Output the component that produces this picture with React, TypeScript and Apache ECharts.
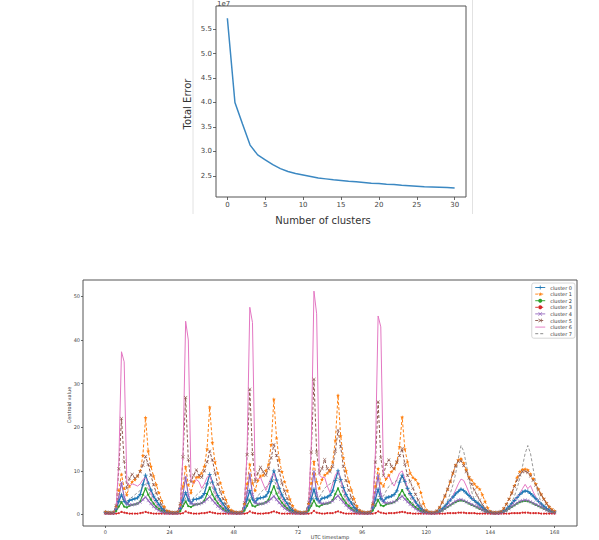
import React, { useEffect, useRef } from "react";
import * as echarts from "echarts";

// ---- Elbow plot data (Total Error, in units of 1e7) ----
const clusterCounts = [0,1,2,3,4,5,6,7,8,9,10,11,12,13,14,15,16,17,18,19,20,21,22,23,24,25,26,27,28,29,30];
const totalError = [5.72,4.0,3.56,3.13,2.93,2.83,2.73,2.65,2.59,2.55,2.52,2.49,2.46,2.44,2.42,2.405,2.39,2.38,2.365,2.35,2.345,2.33,2.325,2.31,2.3,2.29,2.28,2.275,2.27,2.265,2.255];
const elbowXTicks = [0,5,10,15,20,25,30];
const elbowYTicks = [2.5,3.0,3.5,4.0,4.5,5.0,5.5];

// ---- Centroid data (hourly, 0..168) ----
const hourTicks = [0,24,48,72,96,120,144,168];
const valueTicks = [0,10,20,30,40,50];
const clusterNames = ["cluster 0","cluster 1","cluster 2","cluster 3","cluster 4","cluster 5","cluster 6","cluster 7"];

const cluster0 = [
0.5,0.4,0.4,0.4,1.2,3.0,4.5,3.0,2.4,3.2,3.4,3.6,3.8,4.6,6.8,9.0,7.2,5.6,4.2,3.2,2.3,1.4,0.9,0.6,
0.5,0.4,0.4,0.5,1.4,3.3,5.0,3.3,2.6,3.4,3.5,3.7,4.0,4.8,7.0,9.2,7.4,5.8,4.3,3.3,2.4,1.5,0.9,0.6,
0.5,0.4,0.4,0.5,1.5,3.5,5.5,3.5,2.8,3.6,3.8,3.9,4.2,5.2,7.6,10.0,7.9,6.0,4.5,3.4,2.5,1.5,0.9,0.6,
0.5,0.4,0.4,0.5,1.5,3.6,5.8,3.6,2.9,3.7,3.8,4.0,4.4,5.4,7.8,10.0,8.0,6.2,4.6,3.5,2.6,1.6,1.0,0.6,
0.5,0.4,0.4,0.5,1.5,3.5,5.8,3.6,3.0,3.8,4.0,4.2,4.6,5.4,7.4,9.0,7.6,6.0,4.8,3.8,2.9,2.0,1.3,0.8,
0.6,0.5,0.4,0.4,0.5,0.8,1.3,1.9,2.6,3.3,4.0,4.7,5.3,5.8,5.5,4.9,4.3,3.7,3.2,2.7,2.2,1.6,1.1,0.7,
0.5,0.4,0.4,0.4,0.5,0.8,1.2,1.8,2.5,3.2,3.9,4.6,5.1,5.4,5.3,4.8,4.2,3.6,3.0,2.4,1.9,1.4,1.0,0.7,
0.6];
const cluster1 = [
0.6,0.5,0.4,0.5,1.8,5.5,9.2,6.0,4.5,6.5,7.5,8.0,8.8,10.0,13.5,22.2,14.5,11.0,8.8,6.8,5.0,3.2,1.8,0.9,
0.7,0.5,0.5,0.6,2.2,6.5,10.9,6.8,5.0,7.5,8.5,8.6,9.5,11.0,15.0,24.6,16.5,12.0,9.5,7.2,5.2,3.4,1.9,1.0,
0.7,0.5,0.5,0.6,2.4,7.0,11.5,7.2,5.5,7.8,8.8,9.0,10.0,11.5,16.0,26.4,17.5,12.5,9.8,7.5,5.5,3.5,2.0,1.0,
0.7,0.5,0.5,0.6,2.5,7.2,12.1,7.5,6.0,8.0,9.0,9.5,10.2,12.0,17.0,27.3,18.0,13.0,10.0,7.6,5.6,3.6,2.0,1.0,
0.7,0.5,0.5,0.6,2.3,6.5,10.5,7.2,6.5,8.2,9.0,9.8,10.5,12.0,15.5,22.3,15.0,12.0,9.5,8.5,8.0,7.0,5.0,2.5,
1.0,0.6,0.5,0.5,0.8,1.6,2.8,4.2,5.8,7.5,9.5,11.3,12.5,12.8,11.8,10.2,8.6,7.9,7.0,6.3,5.8,4.5,3.0,1.5,
0.7,0.5,0.5,0.5,0.7,1.4,2.4,3.6,5.0,6.6,8.5,9.8,10.3,10.4,10.2,9.3,8.2,7.0,5.8,4.6,3.6,2.6,1.8,1.2,
0.8];
const cluster2 = [
0.3,0.3,0.3,0.3,0.8,1.8,2.8,1.8,1.6,2.0,2.2,2.3,2.5,3.0,4.5,6.0,4.5,3.4,2.5,1.8,1.3,0.8,0.5,0.3,
0.3,0.3,0.3,0.3,0.8,1.9,3.0,1.9,1.7,2.1,2.3,2.4,2.6,3.2,4.7,6.2,4.6,3.5,2.6,1.9,1.3,0.8,0.5,0.3,
0.3,0.3,0.3,0.3,0.9,2.0,3.2,2.0,1.8,2.2,2.4,2.5,2.8,3.4,5.0,6.5,4.8,3.6,2.7,2.0,1.4,0.9,0.5,0.3,
0.3,0.3,0.3,0.3,0.9,2.0,3.2,2.0,1.8,2.2,2.4,2.5,2.7,3.3,4.7,6.0,4.6,3.5,2.6,2.0,1.4,0.9,0.5,0.3,
0.3,0.3,0.3,0.3,0.9,2.0,3.3,2.1,1.9,2.3,2.5,2.6,2.8,3.3,4.5,5.6,4.4,3.5,2.8,2.2,1.7,1.2,0.8,0.5,
0.4,0.3,0.3,0.3,0.4,0.6,0.9,1.3,1.7,2.1,2.5,2.8,3.1,3.2,3.1,2.8,2.5,2.2,1.9,1.6,1.3,1.0,0.7,0.5,
0.4,0.3,0.3,0.3,0.4,0.6,0.9,1.3,1.7,2.1,2.5,2.8,3.0,3.1,3.0,2.8,2.5,2.2,1.9,1.6,1.3,1.0,0.7,0.5,
0.4];
const cluster3 = [
0.2,0.2,0.2,0.2,0.2,0.3,0.6,0.4,0.3,0.2,0.2,0.2,0.2,0.3,0.4,0.6,0.4,0.3,0.2,0.2,0.2,0.2,0.2,0.2,
0.2,0.2,0.2,0.2,0.2,0.3,0.7,0.4,0.3,0.2,0.2,0.2,0.3,0.3,0.4,0.6,0.4,0.3,0.2,0.2,0.2,0.2,0.2,0.2,
0.2,0.2,0.2,0.2,0.2,0.3,0.7,0.4,0.3,0.2,0.2,0.2,0.3,0.3,0.5,0.7,0.5,0.3,0.2,0.2,0.2,0.2,0.2,0.2,
0.2,0.2,0.2,0.2,0.2,0.3,0.8,0.4,0.3,0.2,0.2,0.3,0.3,0.3,0.5,0.7,0.5,0.3,0.2,0.2,0.2,0.2,0.2,0.2,
0.2,0.2,0.2,0.2,0.2,0.3,0.7,0.4,0.3,0.2,0.3,0.3,0.3,0.4,0.5,0.6,0.5,0.3,0.3,0.2,0.2,0.2,0.2,0.2,
0.2,0.2,0.2,0.2,0.2,0.2,0.2,0.2,0.3,0.3,0.3,0.3,0.4,0.4,0.4,0.3,0.3,0.3,0.3,0.2,0.2,0.2,0.2,0.2,
0.2,0.2,0.2,0.2,0.2,0.2,0.2,0.2,0.3,0.3,0.3,0.3,0.4,0.4,0.4,0.3,0.3,0.3,0.3,0.2,0.2,0.2,0.2,0.2,
0.2];
const cluster4 = [
0.3,0.3,0.3,0.3,1.5,4.0,7.3,4.0,2.5,2.2,2.2,2.3,2.5,2.8,3.4,4.0,3.2,2.5,1.8,1.3,0.9,0.6,0.4,0.3,
0.3,0.3,0.3,0.3,1.8,4.6,8.6,4.4,2.6,2.3,2.3,2.4,2.6,2.9,3.5,4.1,3.3,2.6,1.9,1.4,0.9,0.6,0.4,0.3,
0.3,0.3,0.3,0.3,1.9,5.0,9.3,4.6,2.7,2.4,2.4,2.5,2.7,3.0,3.6,4.2,3.4,2.7,2.0,1.4,1.0,0.6,0.4,0.3,
0.3,0.3,0.3,0.3,2.0,5.2,9.8,4.8,2.8,2.5,2.5,2.6,2.8,3.1,3.7,4.3,3.5,2.8,2.1,1.5,1.0,0.7,0.4,0.3,
0.3,0.3,0.3,0.3,1.9,5.0,9.0,4.6,2.8,2.6,2.6,2.7,2.9,3.2,3.7,4.2,3.5,2.9,2.3,1.8,1.3,0.9,0.6,0.4,
0.4,0.3,0.3,0.3,0.4,0.6,0.9,1.3,1.8,2.2,2.6,3.0,3.3,3.4,3.2,2.9,2.6,2.3,2.0,1.7,1.4,1.0,0.7,0.5,
0.4,0.3,0.3,0.3,0.4,0.6,0.9,1.3,1.8,2.2,2.6,3.0,3.2,3.3,3.2,2.9,2.6,2.3,2.0,1.7,1.3,1.0,0.7,0.5,
0.4];
const cluster5 = [
0.5,0.4,0.4,0.5,2.0,10.5,22.0,12.2,6.0,8.3,9.2,8.3,8.8,9.8,11.3,13.3,11.5,9.0,6.8,5.0,3.5,2.2,1.2,0.7,
0.5,0.4,0.4,0.5,2.5,13.2,26.8,12.6,7.5,9.0,10.2,9.0,8.5,10.0,12.0,14.5,12.5,9.5,7.0,5.2,3.6,2.3,1.3,0.7,
0.5,0.4,0.4,0.5,2.7,13.7,28.7,14.0,7.5,9.5,10.8,9.8,9.0,10.5,13.0,16.0,13.5,10.0,7.2,5.3,3.7,2.4,1.3,0.7,
0.5,0.4,0.4,0.5,2.8,14.3,31.0,14.3,9.5,10.5,12.6,10.5,9.8,11.0,14.5,19.3,15.5,11.0,7.8,5.6,3.9,2.5,1.4,0.8,
0.5,0.4,0.4,0.5,2.4,12.0,25.8,13.0,9.0,11.5,12.5,11.0,10.5,12.0,13.5,15.1,11.5,9.0,7.5,6.0,4.6,3.3,2.0,1.0,
0.8,0.5,0.4,0.5,0.8,1.6,2.8,4.3,5.8,7.6,9.5,11.2,12.2,12.3,11.2,9.8,8.3,6.9,5.6,4.4,3.3,2.3,1.4,0.8,
0.6,0.4,0.4,0.5,0.7,1.3,2.3,3.5,4.9,6.4,7.9,9.1,9.8,9.9,9.6,8.8,7.8,6.7,5.6,4.5,3.5,2.5,1.6,1.0,
0.6];
const cluster6 = [
0.3,0.2,0.2,0.3,1.5,12.0,37.3,35.0,7.5,6.5,7.0,6.8,6.5,7.0,8.0,8.5,7.0,5.0,3.5,2.5,1.6,1.0,0.6,0.4,
0.3,0.2,0.2,0.3,1.8,14.0,44.3,40.0,8.0,7.0,8.0,7.5,6.0,7.0,8.5,9.0,7.2,5.2,3.6,2.6,1.7,1.0,0.6,0.4,
0.3,0.2,0.2,0.3,2.0,15.0,47.5,44.0,8.5,8.0,8.5,7.0,5.5,7.0,8.5,9.5,7.5,5.4,3.7,2.6,1.7,1.0,0.6,0.4,
0.3,0.2,0.2,0.3,2.0,16.0,51.2,46.0,9.0,8.5,8.5,6.5,5.0,7.0,9.0,10.0,8.0,5.6,3.8,2.7,1.8,1.1,0.6,0.4,
0.3,0.2,0.2,0.3,1.9,14.5,45.5,43.0,9.0,8.0,9.0,7.5,6.5,8.0,9.5,10.0,8.2,6.0,4.5,3.5,2.5,1.6,1.0,0.6,
0.4,0.3,0.3,0.3,0.4,0.7,1.1,1.6,2.3,3.2,4.3,5.6,7.0,8.1,7.8,6.5,5.0,3.9,3.0,2.3,1.7,1.2,0.8,0.5,
0.4,0.3,0.3,0.3,0.4,0.7,1.0,1.5,2.2,3.0,4.0,4.8,5.9,6.9,5.9,6.6,5.2,4.0,3.0,2.2,1.6,1.1,0.8,0.5,
0.4];
const cluster7 = [
0.3,0.3,0.3,0.3,0.8,2.0,3.5,3.2,3.0,3.5,4.0,4.5,5.0,5.5,6.5,7.0,5.8,4.0,2.6,1.6,1.0,0.6,0.4,0.3,
0.3,0.3,0.3,0.3,0.9,2.2,3.8,3.4,3.2,3.8,4.4,5.0,5.6,6.2,7.0,7.5,6.2,4.3,2.8,1.7,1.1,0.6,0.4,0.3,
0.3,0.3,0.3,0.3,0.9,2.3,4.0,3.6,3.5,4.2,5.0,5.6,6.2,6.8,7.6,8.0,6.5,4.5,2.9,1.8,1.1,0.7,0.4,0.3,
0.3,0.3,0.3,0.3,1.0,2.4,4.2,4.0,4.0,5.0,6.0,6.6,7.0,7.4,8.0,8.4,6.8,4.7,3.0,1.9,1.2,0.7,0.4,0.3,
0.3,0.3,0.3,0.3,1.0,2.4,4.2,4.0,4.2,5.4,6.4,7.0,7.4,7.8,8.2,8.5,7.2,5.4,3.8,2.6,1.7,1.0,0.6,0.4,
0.3,0.3,0.3,0.3,0.4,0.7,1.2,2.0,3.2,4.8,6.8,9.3,12.8,15.8,14.5,11.5,8.0,5.2,3.3,2.1,1.3,0.8,0.5,0.3,
0.3,0.3,0.3,0.3,0.4,0.6,1.0,1.7,2.8,4.2,6.0,8.3,11.0,14.0,15.8,14.0,10.5,7.0,4.4,2.7,1.6,1.0,0.6,0.4,
0.3];
const clusterValues = [cluster0, cluster1, cluster2, cluster3, cluster4, cluster5, cluster6, cluster7];

// ---- Styles ----
const PLUS = "path://M4,0h2v4h4v2h-4v4h-2v-4h-4v-2h4z";
const XMARK = "path://M1,0L5,4L9,0L10,1L6,5L10,9L9,10L5,6L1,10L0,9L4,5L0,1Z";
const STAR = "path://M5,0L6.2,3.5L10,3.8L7,6.2L8.1,10L5,7.8L1.9,10L3,6.2L0,3.8L3.8,3.5Z";
const seriesStyles = [
  { color: "#1f77b4", type: "solid", symbol: PLUS, size: 4, width: 1.4 },
  { color: "#ff7f0e", type: [3, 2], symbol: STAR, size: 4, width: 1 },
  { color: "#2ca02c", type: "solid", symbol: "circle", size: 2.2, width: 1.2 },
  { color: "#d62728", type: [3, 2], symbol: "circle", size: 2, width: 1 },
  { color: "#9467bd", type: "solid", symbol: XMARK, size: 3.5, width: 1.2 },
  { color: "#8c564b", type: [3, 2], symbol: XMARK, size: 3.5, width: 1 },
  { color: "#e377c2", type: "solid", symbol: "none", size: 0, width: 1 },
  { color: "#7f7f7f", type: [3, 2], symbol: "none", size: 0, width: 0.8 },
];

const FONT = "DejaVu Sans";

export default function App() {
  const ref = useRef<HTMLDivElement>(null);
  useEffect(() => {
    if (!ref.current) return;
    const chart = echarts.init(ref.current, null, { renderer: "svg" });
    const tickLine = { color: "#444", width: 0.8 };
    const noLine = { show: false, onZero: false };
    const clusterSeries = clusterValues.map((vals, i) => {
      const s = seriesStyles[i];
      return {
        type: "line",
        name: clusterNames[i],
        xAxisIndex: 1,
        yAxisIndex: 1,
        data: vals.map((v, h) => [h, v]),
        symbol: s.symbol,
        symbolSize: s.size,
        showSymbol: s.symbol !== "none",
        lineStyle: { color: s.color, width: s.width, type: s.type },
        itemStyle: { color: s.color },
        silent: true,
      };
    });
    const legendData = clusterNames.map((name, i) => {
      const s = seriesStyles[i];
      const item: any = { name, lineStyle: { color: s.color, width: 0.9, type: s.type } };
      item.itemStyle = s.symbol === "none"
        ? { color: "rgba(0,0,0,0)", borderWidth: 0, opacity: 0 }
        : { color: s.color, borderWidth: 0 };
      return item;
    });
    chart.setOption({
      animation: false,
      backgroundColor: "#fff",
      grid: [
        { left: 216, top: 6, width: 250, height: 191, show: true, borderColor: "#555", borderWidth: 1 },
        { left: 83, top: 280, width: 494, height: 246, show: true, borderColor: "#555", borderWidth: 1 },
      ],
      xAxis: [
        {
          type: "value", gridIndex: 0, min: -1.5, max: 31.5, position: "bottom",
          axisLine: noLine, splitLine: { show: false },
          axisTick: { show: true, length: 3, lineStyle: tickLine, customValues: elbowXTicks },
          axisLabel: { customValues: elbowXTicks, fontSize: 7, color: "#444", fontFamily: FONT, margin: 4 },
        },
        {
          type: "value", gridIndex: 1, min: -8.4, max: 176.4, position: "bottom",
          axisLine: noLine, splitLine: { show: false },
          axisTick: { show: true, length: 2, lineStyle: tickLine, customValues: hourTicks },
          axisLabel: { customValues: hourTicks, fontSize: 5, color: "#444", fontFamily: FONT, margin: 3 },
        },
      ],
      yAxis: [
        {
          type: "value", gridIndex: 0, min: 2.07, max: 5.97, position: "left",
          axisLine: noLine, splitLine: { show: false },
          axisTick: { show: true, length: 3, lineStyle: tickLine, customValues: elbowYTicks },
          axisLabel: { customValues: elbowYTicks, fontSize: 7, color: "#444", fontFamily: FONT, margin: 4, formatter: (v: number) => v.toFixed(1) },
        },
        {
          type: "value", gridIndex: 1, min: -2.65, max: 53.75, position: "left",
          axisLine: noLine, splitLine: { show: false },
          axisTick: { show: true, length: 2, lineStyle: tickLine, customValues: valueTicks },
          axisLabel: { customValues: valueTicks, fontSize: 5, color: "#444", fontFamily: FONT, margin: 3 },
        },
      ],
      legend: {
        data: legendData,
        orient: "vertical",
        right: 24,
        top: 283,
        itemWidth: 10,
        itemHeight: 5,
        itemGap: 1.6,
        padding: [2, 3, 2, 3],
        borderColor: "#ccc",
        borderWidth: 0.8,
        borderRadius: 2,
        backgroundColor: "#fff",
        textStyle: { fontSize: 5, color: "#333", fontFamily: FONT },
        selectedMode: false,
      },
      series: [
        {
          type: "line",
          name: "Total Error",
          xAxisIndex: 0,
          yAxisIndex: 0,
          data: totalError.map((v, i) => [clusterCounts[i], v]),
          showSymbol: false,
          symbol: "none",
          lineStyle: { color: "#3b88c2", width: 1.5 },
          silent: true,
        },
        ...clusterSeries,
      ],
      graphic: [
        { type: "line", shape: { x1: 193, y1: 0, x2: 193, y2: 214 }, style: { stroke: "#e2e2e2", lineWidth: 1 } },
        { type: "line", shape: { x1: 472.5, y1: 0, x2: 472.5, y2: 214 }, style: { stroke: "#e2e2e2", lineWidth: 1 } },
        { type: "text", x: 217, y: 0, style: { text: "1e7", fontSize: 7, fill: "#444", fontFamily: FONT } },
        { type: "text", x: 187, y: 104, rotation: Math.PI / 2, style: { text: "Total Error", fontSize: 10, fill: "#333", fontFamily: FONT, textAlign: "center", textVerticalAlign: "middle" } },
        { type: "text", x: 323, y: 220, style: { text: "Number of clusters", fontSize: 10, fill: "#333", fontFamily: FONT, textAlign: "center", textVerticalAlign: "middle" } },
        { type: "text", x: 69, y: 405, rotation: Math.PI / 2, style: { text: "Centroid value", fontSize: 5, fill: "#333", fontFamily: FONT, textAlign: "center", textVerticalAlign: "middle" } },
        { type: "text", x: 330, y: 537, style: { text: "UTC timestamp", fontSize: 5, fill: "#333", fontFamily: FONT, textAlign: "center", textVerticalAlign: "middle" } },
      ],
    });
    return () => chart.dispose();
  }, []);
  return <div ref={ref} style={{ position: "fixed", left: 0, top: 0, width: 599, height: 540 }} />;
}
